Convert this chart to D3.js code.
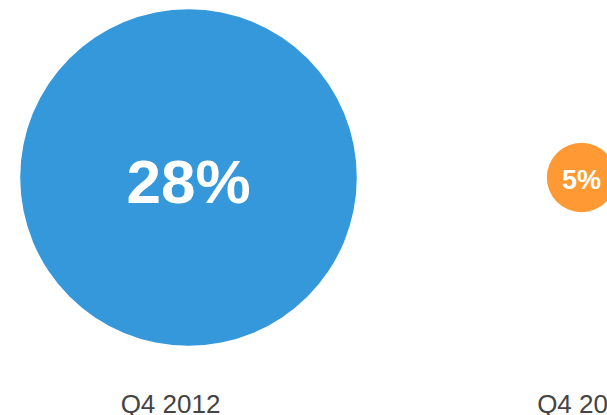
<!DOCTYPE html>
<html>
<head>
<meta charset="utf-8">
<script src="https://cdn.jsdelivr.net/npm/d3@7"></script>
<style>
  html, body { margin: 0; padding: 0; background: #ffffff; }
  svg { display: block; }
</style>
</head>
<body>
<svg id="chart" width="607" height="415"></svg>
<script>
// Share by quarter
const quarters = ["Q4 2012", "Q4 2013"];
const shares = [28, 5];
const colors = ["#3498db", "#ff9933"];
const valueFontSizes = [62, 27];

const svg = d3.select("#chart");

// Horizontal placement of the bubbles and of the quarter labels
const xBubble = d3.scalePoint().domain(quarters).range([188.5, 581.5]);
const xLabel = d3.scalePoint().domain(quarters).range([170.5, 587]);
const cy = 177.5;

// Bubble radius grows linearly with the share
const r = d3.scaleLinear().domain([5, 28]).range([34.7, 168.3]);

const data = quarters.map((q, i) => ({ q, v: shares[i], color: colors[i], fs: valueFontSizes[i] }));

const g = svg.selectAll("g.bubble").data(data).join("g").attr("class", "bubble");

g.append("circle")
  .attr("cx", d => xBubble(d.q))
  .attr("cy", cy)
  .attr("r", d => r(d.v))
  .attr("fill", d => d.color);

g.append("text")
  .attr("x", d => xBubble(d.q))
  .attr("y", cy)
  .attr("dy", "0.41em")
  .attr("text-anchor", "middle")
  .attr("fill", "#ffffff")
  .attr("font-family", "'Liberation Sans', Arial, sans-serif")
  .attr("font-weight", "bold")
  .attr("font-size", d => d.fs)
  .text(d => d.v + "%");

g.append("text")
  .attr("x", d => xLabel(d.q))
  .attr("y", 413)
  .attr("text-anchor", "middle")
  .attr("fill", "#444444")
  .attr("font-family", "'Liberation Sans', Arial, sans-serif")
  .attr("font-size", 26)
  .text(d => d.q);
</script>
</body>
</html>
